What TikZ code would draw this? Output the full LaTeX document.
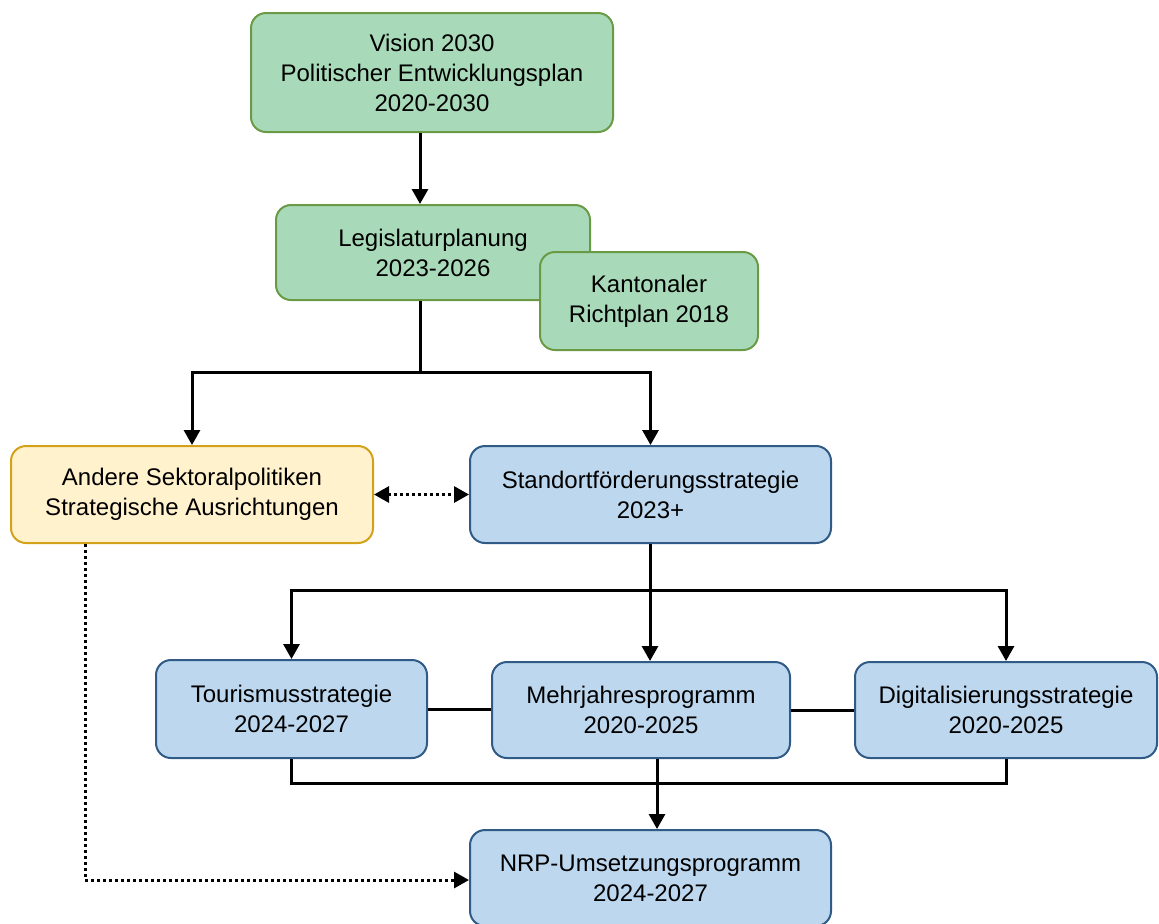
\documentclass[tikz,border=0pt]{standalone}
\usepackage{fontspec}
\setmainfont{Liberation Sans}
\usetikzlibrary{arrows.meta,positioning,calc}

\definecolor{greenfill}{HTML}{A8DAB9}
\definecolor{greenline}{HTML}{6A9A45}
\definecolor{yellowfill}{HTML}{FFF2CC}
\definecolor{yellowline}{HTML}{D4A21A}
\definecolor{bluefill}{HTML}{BDD7EE}
\definecolor{blueline}{HTML}{2F5B86}

\begin{document}
\begin{tikzpicture}[
    x=0.5pt, y=-0.5pt,
    font=\fontsize{12}{15}\selectfont,
    box/.style={
        rectangle,
        rounded corners=7.5pt,
        line width=1pt,
        align=center,
        inner sep=2pt
    },
    greenbox/.style={box, draw=greenline, fill=greenfill},
    yellowbox/.style={box, draw=yellowline, fill=yellowfill},
    bluebox/.style={box, draw=blueline, fill=bluefill},
    link/.style={line width=1.5pt, black},
    arrow/.style={link, -{Triangle[length=7.5pt,width=8pt]}},
    dotarrow/.style={line width=1.5pt, dash pattern=on 1.5pt off 1.5pt,
        -{Triangle[length=7.5pt,width=8pt]}}
]

\useasboundingbox (0,0) rectangle (1159,923);

% =========================================================
% PLANUNGSEBENE
% =========================================================

\node[greenbox, minimum width=181pt, minimum height=59.5pt] (vision)
at (432,72.5)
{Vision 2030\\Politischer Entwicklungsplan\\2020-2030};

\node[greenbox, minimum width=157pt, minimum height=47.5pt] (legis)
at (433,252.5)
{Legislaturplanung\\2023-2026};

\node[greenbox, minimum width=109pt, minimum height=49pt] (richtplan)
at (649,301)
{Kantonaler\\Richtplan 2018};

% =========================================================
% STRATEGIEN
% =========================================================

\node[yellowbox, minimum width=181pt, minimum height=48.5pt] (andere)
at (192,494.5)
{Andere Sektoralpolitiken\\Strategische Ausrichtungen};

\node[bluebox, minimum width=180.5pt, minimum height=48.5pt] (standort)
at (650.5,494.5)
{Standortförderungsstrategie\\2023+};

\node[bluebox, minimum width=135.5pt, minimum height=49pt] (tourismus)
at (291.5,709)
{Tourismusstrategie\\2024-2027};

\node[bluebox, minimum width=149pt, minimum height=48pt] (mehrjahres)
at (641,710)
{Mehrjahresprogramm\\2020-2025};

\node[bluebox, minimum width=151pt, minimum height=48pt] (digital)
at (1006,710)
{Digitalisierungsstrategie\\2020-2025};

% =========================================================
% UMSETZUNG
% =========================================================

\node[bluebox, minimum width=180.5pt, minimum height=48pt] (nrp)
at (650.5,878)
{NRP-Umsetzungsprogramm\\2024-2027};

% =========================================================
% FLECHEN
% =========================================================

\coordinate (trunk) at (420,372);
\coordinate (split) at (650,590);
\coordinate (merge) at (657,783);
\coordinate (corner) at (85,880);

% Vision zur Legislatur
\draw[arrow] (vision.south -| trunk) -- (legis.north -| trunk);

% Legislatur verzweigt
\draw[link] (legis.south -| trunk) -- (trunk);
\draw[arrow] (trunk) -| (andere.north);
\draw[arrow] (trunk) -| (standort.north);

% Wechselwirkung
\draw[dotarrow, {Triangle[length=7.5pt,width=8pt]}-{Triangle[length=7.5pt,width=8pt]}]
    (andere.east) -- (standort.west);

% Standortförderung verzweigt
\draw[link] (standort.south -| split) -- (split);
\draw[arrow] (split) -| (tourismus.north);
\draw[arrow] (split) -- (split |- mehrjahres.north);
\draw[arrow] (split) -| (digital.north);

% Querverbindungen
\draw[link] (tourismus.east) -- (tourismus.east -| mehrjahres.west);
\draw[link] (mehrjahres.east) -- (mehrjahres.east -| digital.west);

% Zusammenführung
\draw[link] (tourismus.south) |- (merge) -| (digital.south);
\draw[arrow] (mehrjahres.south -| merge) -- (nrp.north -| merge);

% Andere Sektoralpolitiken zur Umsetzung
\draw[dotarrow] (andere.south -| corner) -- (corner) -- (nrp.west |- corner);

\end{tikzpicture}
\end{document}
